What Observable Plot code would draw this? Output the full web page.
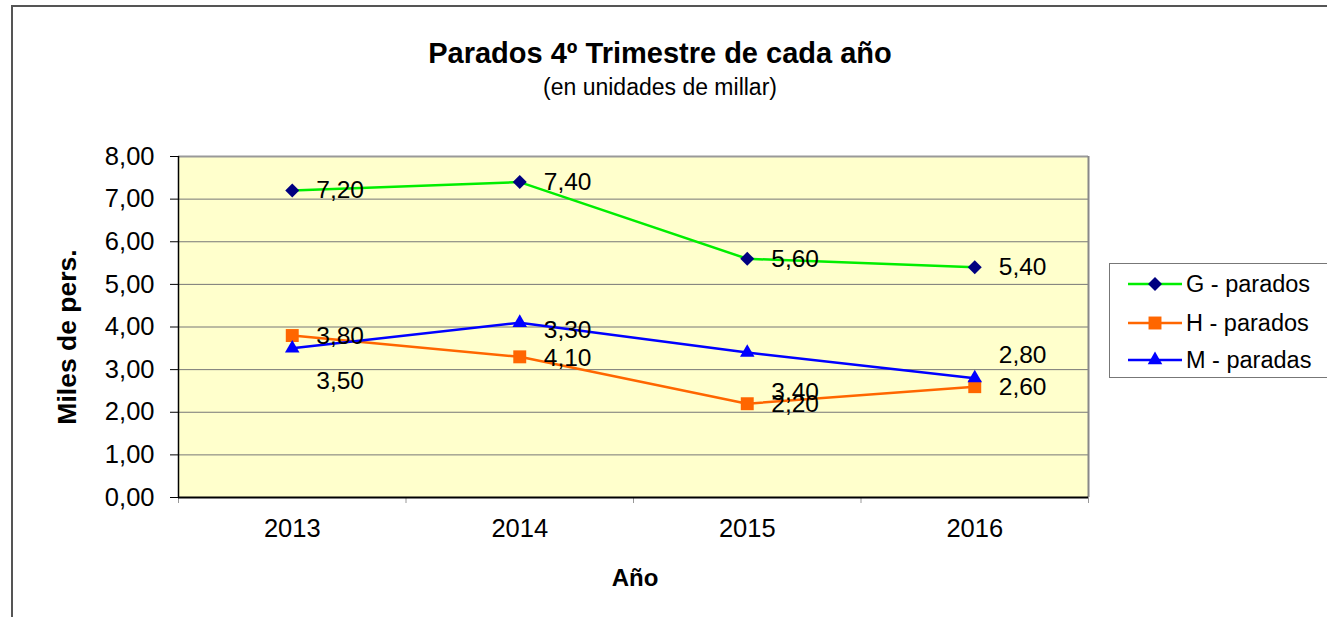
<!DOCTYPE html>
<html>
<head>
<meta charset="utf-8">
<script src="https://cdn.jsdelivr.net/npm/d3@7"></script>
<script src="https://cdn.jsdelivr.net/npm/@observablehq/plot@0.6"></script>
<style>
  html, body { margin: 0; padding: 0; background: #fff; }
  body { font-family: "Liberation Sans", Arial, sans-serif; }
  #wrap { position: relative; width: 1327px; height: 617px; overflow: hidden; }
  #border { position: absolute; left: 11px; top: 5px; width: 1330px; height: 620px;
            border-top: 2px solid #555; border-left: 2px solid #555; box-sizing: border-box; }
  .abs { position: absolute; white-space: nowrap; color: #000; }
  #title { left: 0; width: 1320px; text-align: center; top: 33px; font-size: 29px; font-weight: bold; line-height: 40px; }
  #subtitle { left: 0; width: 1320px; text-align: center; top: 72px; font-size: 23px; line-height: 30px; }
  #xlabel { left: 535px; width: 200px; text-align: center; top: 563px; font-size: 24px; font-weight: bold; line-height: 30px; }
  #ylabel { left: 67px; top: 337px; font-size: 26.5px; font-weight: bold; line-height: 30px;
            transform: translate(-50%, -50%) rotate(-90deg); }
  #legend { left: 1109px; top: 263px; width: 222px; height: 115px; border: 1px solid #777; box-sizing: border-box; background: #fff; }
  .lrow { position: absolute; left: 0; height: 30px; display: flex; align-items: center; font-size: 23.5px; }
  .lrow svg { margin-left: 18px; margin-right: 4px; }
  #chart { position: absolute; left: 0; top: 0; }
</style>
</head>
<body>
<div id="wrap">
  <div id="border"></div>
  <div id="chart"></div>
  <div class="abs" id="title">Parados 4º Trimestre de cada año</div>
  <div class="abs" id="subtitle">(en unidades de millar)</div>
  <div class="abs" id="xlabel">Año</div>
  <div class="abs" id="ylabel">Miles de pers.</div>
  <div class="abs" id="legend"></div>
</div>
<script>
const years = ["2013", "2014", "2015", "2016"];
const gValues = [7.2, 7.4, 5.6, 5.4];
const hValues = [3.8, 3.3, 2.2, 2.6];
const mValues = [3.5, 4.1, 3.4, 2.8];
// where each data label sits (value units), as placed in the original chart
const gLabelAt = [7.2, 7.4, 5.6, 5.4];
const hLabelAt = [3.78, 3.92, 2.18, 2.6];
const mLabelAt = [2.72, 3.28, 2.46, 3.35];
const yTicks = [0, 1, 2, 3, 4, 5, 6, 7, 8];
const seriesNames = ["G - parados", "H - parados", "M - paradas"];

const series = [
  {name: seriesNames[0], values: gValues, labelAt: gLabelAt, line: "#00EE00", fill: "#000080", symbol: "diamond2", r: 6.3},
  {name: seriesNames[1], values: hValues, labelAt: hLabelAt, line: "#FF6600", fill: "#FF6600", symbol: "square", r: 7.3},
  {name: seriesNames[2], values: mValues, labelAt: mLabelAt, line: "#0000FF", fill: "#0000FF", symbol: "triangle", r: 5.4}
];
const rows = s => years.map((yr, i) => ({i, year: yr, value: s.values[i], at: s.labelAt[i]}));
const fmt = d => d.toFixed(2).replace(".", ",");
const idx = d3.range(years.length);
const bounds = d3.range(years.length + 1).map(i => i - 0.5);

const marks = [
  Plot.frame({fill: "#FFFFCC", stroke: null}),
  Plot.ruleY(yTicks.filter(d => d > 0), {y: d => d, stroke: "#777", strokeWidth: 1}),
  Plot.ruleY([d3.max(yTicks)], {stroke: "#999", strokeWidth: 2}),
  Plot.ruleX([d3.max(bounds)], {stroke: "#888", strokeWidth: 2}),
  Plot.axisY(yTicks, {tickSize: 8, tickPadding: 16, tickFormat: fmt, fontSize: 25.5, label: null, stroke: "#000"}),
  Plot.axisX(bounds, {tickSize: 6, tickFormat: () => "", stroke: "#999", label: null}),
  Plot.axisX(idx, {tickSize: 0, tickPadding: 21, tickFormat: i => years[i], fontSize: 25.5, label: null}),
  Plot.ruleX([d3.min(bounds)], {stroke: "#000", strokeWidth: 1.5}),
  Plot.ruleY([0], {stroke: "#000", strokeWidth: 2})
];
for (const s of series) {
  marks.push(Plot.line(rows(s), {x: "i", y: "value", stroke: s.line, strokeWidth: 2.5}));
}
for (const s of series) {
  marks.push(Plot.dot(rows(s), {x: "i", y: "value", symbol: () => s.symbol, r: s.r, fill: s.fill, stroke: null}));
}
for (const s of series) {
  marks.push(Plot.text(rows(s), {x: "i", y: "at", text: d => fmt(d.value), dx: 24, textAnchor: "start", fontSize: 24.5, fill: "#000"}));
}

const chart = Plot.plot({
  width: 1327,
  height: 617,
  marginLeft: 178,
  marginRight: 239,
  marginTop: 156,
  marginBottom: 120,
  style: {fontFamily: "'Liberation Sans', Arial, sans-serif", background: "transparent", overflow: "visible"},
  x: {type: "linear", domain: [d3.min(bounds), d3.max(bounds)], axis: null},
  y: {type: "linear", domain: [d3.min(yTicks), d3.max(yTicks)], axis: null},
  symbol: {type: "identity"},
  marks
});
document.getElementById("chart").appendChild(chart);

// legend
const legend = document.getElementById("legend");
const rowTops = [5, 44, 81];
series.forEach((s, k) => {
  const row = document.createElement("div");
  row.className = "lrow";
  row.style.top = rowTops[k] + "px";
  const sw = d3.create("svg").attr("width", 54).attr("height", 30);
  sw.append("line").attr("x1", 0).attr("x2", 54).attr("y1", 15).attr("y2", 15)
    .attr("stroke", s.line).attr("stroke-width", 2.5);
  const symMap = {diamond2: d3.symbolDiamond2, square: d3.symbolSquare, triangle: d3.symbolTriangle};
  sw.append("path").attr("transform", "translate(27,15)")
    .attr("d", d3.symbol(symMap[s.symbol], Math.PI * s.r * s.r)()).attr("fill", s.fill);
  row.appendChild(sw.node());
  const t = document.createElement("span");
  t.textContent = s.name;
  row.appendChild(t);
  legend.appendChild(row);
});
</script>
</body>
</html>
